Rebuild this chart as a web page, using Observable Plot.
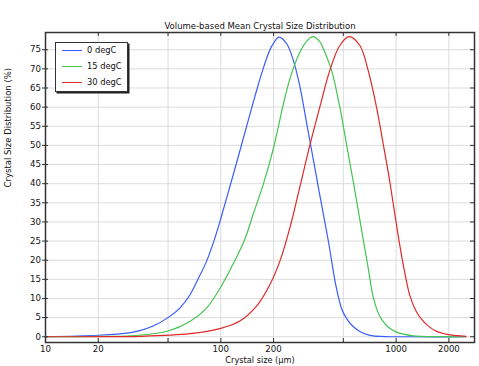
<!DOCTYPE html>
<html>
<head>
<meta charset="utf-8">
<script src="https://cdn.jsdelivr.net/npm/d3@7"></script>
<script src="https://cdn.jsdelivr.net/npm/@observablehq/plot@0.6"></script>
<style>
  body { margin: 0; background: #fff; }
  #wrap { position: relative; width: 479px; height: 366px; font-family: "DejaVu Sans", sans-serif; }
  #legend { position: absolute; left: 55px; top: 42px; width: 71px; height: 48px; border: 1px solid #333;
            box-shadow: 1.5px 1.5px 0 #222; background: #fff; font-size: 8.3px; color: #111; }
  .row { position: absolute; left: 6px; height: 10px; display: flex; align-items: center; }
  .sw { width: 20px; height: 0; border-top: 1.2px solid; margin-right: 5px; }
</style>
</head>
<body>
<div id="wrap"></div>
<script>
const title = "Volume-based Mean Crystal Size Distribution";
const xLabel = "Crystal size (µm)";
const yLabel = "Crystal Size Distribution (%)";
const seriesNames = ["0 degC", "15 degC", "30 degC"];
const seriesColors = ["#3b5cff", "#45c450", "#e02828"];
const xTicks = [10, 20, 50, 100, 200, 500, 1000, 2000];
const yTicks = [0, 5, 10, 15, 20, 25, 30, 35, 40, 45, 50, 55, 60, 65, 70, 75];

// 0 degC
const size0 = [10,20,30,34.5,41.1,50,58.4,66.6,74.2,82.9,92.4,100,110.4,122.9,140.2,156.3,174.3,194.6,215.1,238,258.5,282.3,308.2,336.1,367,413.2,452.9,490,521.3,559,620.9,707.9,862,1197,2500];
const pct0  = [0.05,0.4,1.0,1.6,2.8,5.0,7.5,10.9,15.1,19.7,25.7,30.9,37.8,45.4,54.9,62.7,70,75.8,78.3,76.5,72.4,65.5,56,46.6,37,24.3,13.5,7.2,4.8,3.0,1.4,0.35,0.05,0,0];
// 15 degC
const size15 = [10,20,34.5,50,66.6,82.9,100,117.5,137.1,152.9,175.2,198.9,226.7,241.2,258.5,282.3,308.2,336.1,367,383.3,428.2,477.3,521.3,556.8,573.9,648.5,689.8,739.2,786.5,825.5,896.8,1005,1250,1776,2500];
const pct15  = [0.02,0.1,0.4,1.5,4.0,7.5,13,19,25.5,32,40,49,60.5,65.5,70,74.3,77.2,78.4,77.1,75.4,69.6,60,50.3,43,39.7,25.5,18.5,10.5,6.5,4.6,2.6,1.2,0.25,0.02,0];
// 30 degC
const size30 = [10,20,34.5,66.6,100,128.3,159.9,190.4,217.1,247.5,278.6,321.9,367,418.7,477.3,539.5,620.9,692.5,773,843.2,920.6,1027,1107,1197,1296,1396,1516,1701,1921,2212,2500];
const pct30  = [0,0.02,0.1,0.8,2.2,4.1,8.0,13.6,19.7,28.4,38,50,60,69.6,76.1,78.4,76.1,69.6,60,50.5,40.5,26.5,18,10.8,6.8,4.6,2.9,1.4,0.7,0.3,0.1];

const sizes = [size0, size15, size30];
const pcts = [pct0, pct15, pct30];
const rows = seriesNames.flatMap((s, i) => sizes[i].map((x, j) => ({series: s, size: x, pct: pcts[i][j]})));

const W = 479, H = 366, mL = 45, mR = 5, mT = 32, mB = 24;
const innerW = W - mL - mR, innerH = H - mT - mB;

const chart = Plot.plot({
  width: W, height: H,
  marginLeft: mL, marginRight: mR, marginTop: mT, marginBottom: mB,
  style: {fontFamily: "DejaVu Sans, sans-serif", fontSize: "8.6px", color: "#111", background: "#fff", overflow: "visible"},
  x: {type: "log", domain: [10, 2800], label: null},
  y: {domain: [-1.5, 79.5], label: null},
  color: {domain: seriesNames, range: seriesColors},
  marks: [
    Plot.gridX(xTicks, {stroke: "#dcdcdc", strokeOpacity: 1}),
    Plot.gridY(yTicks, {stroke: "#dcdcdc", strokeOpacity: 1}),
    Plot.line(rows, {x: "size", y: "pct", z: "series", stroke: "series", strokeWidth: 1.2, curve: "catmull-rom"}),
    Plot.frame({stroke: "#333", strokeWidth: 1.5}),
    Plot.axisX(xTicks, {anchor: "bottom", tickSize: 0, tickPadding: 3.5, tickFormat: d => String(d), label: null}),
    Plot.axisY(yTicks, {anchor: "left", tickSize: 3, tickPadding: 1.5, label: null, stroke: "#333"}),
    Plot.tickX(xTicks, {x: d => d, insetTop: innerH - 4, stroke: "#333"}),
    Plot.tickX(xTicks, {x: d => d, insetBottom: innerH - 4, stroke: "#333"}),
    Plot.tickY(yTicks, {y: d => d, insetRight: innerW - 3, stroke: "#333"}),
    Plot.tickY(yTicks, {y: d => d, insetLeft: innerW - 4, stroke: "#333"}),
    Plot.text([title], {frameAnchor: "top", dy: -9.5, fontSize: 8.5, fill: "#111"}),
    Plot.text([xLabel], {frameAnchor: "bottom", dy: 20, fontSize: 8.2, fill: "#111"}),
    Plot.text([yLabel], {frameAnchor: "left", dx: -37, rotate: -90, fontSize: 8.5, fill: "#111"})
  ]
});

const wrap = document.getElementById("wrap");
wrap.appendChild(chart);
const legend = document.createElement("div");
legend.id = "legend";
seriesNames.forEach((s, i) => {
  const r = document.createElement("div");
  r.className = "row";
  r.style.top = (2 + i * 16) + "px";
  const sw = document.createElement("span");
  sw.className = "sw";
  sw.style.borderTopColor = seriesColors[i];
  const t = document.createElement("span");
  t.textContent = s;
  r.appendChild(sw); r.appendChild(t);
  legend.appendChild(r);
});
wrap.appendChild(legend);
</script>
</body>
</html>
